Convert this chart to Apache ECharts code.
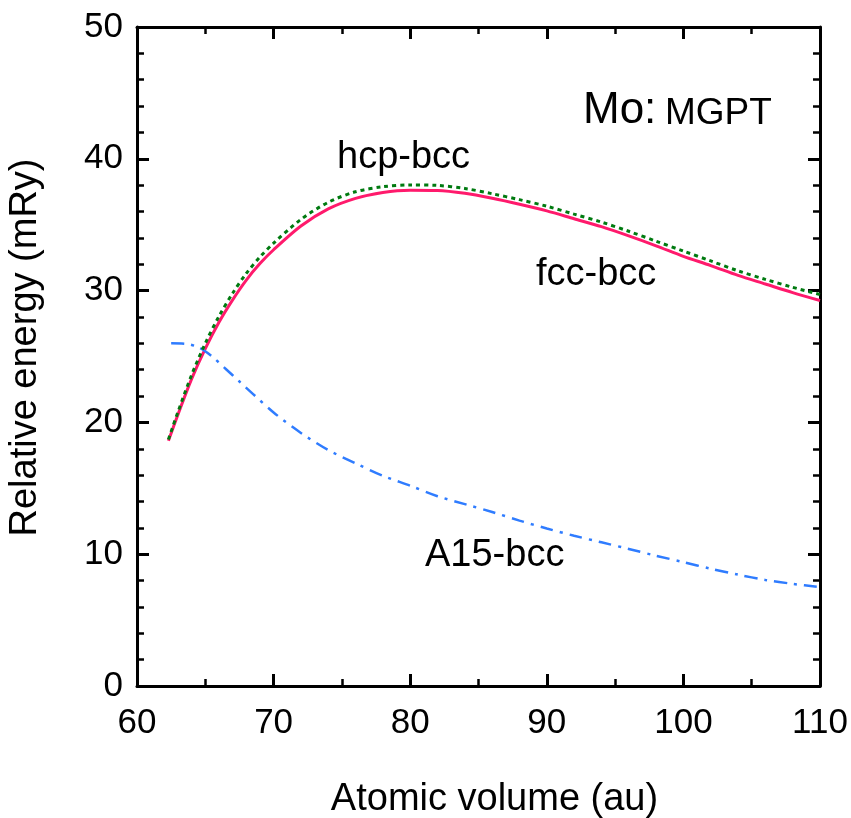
<!DOCTYPE html>
<html>
<head>
<meta charset="utf-8">
<script src="https://cdn.jsdelivr.net/npm/echarts@6/dist/echarts.min.js"></script>
<style>
html,body{margin:0;padding:0;background:#fff;}
#c{width:851px;height:818px;}
</style>
</head>
<body>
<div id="c"></div>
<script>
// Data
const fccVol = [62.3, 63, 64, 65, 66, 67, 68, 69, 70, 72, 74, 76, 78, 80, 82, 84, 86, 88, 90, 92, 94, 96, 98, 100, 102, 104, 106, 108, 110];
const fccE   = [18.6, 20.6, 23.3, 25.6, 27.6, 29.3, 30.8, 32.05, 33.1, 34.9, 36.2, 37.0, 37.45, 37.62, 37.6, 37.38, 37.0, 36.55, 36.05, 35.45, 34.85, 34.15, 33.4, 32.6, 31.9, 31.15, 30.5, 29.85, 29.25];

const hcpVol = [62.3, 63, 64, 65, 66, 67, 68, 69, 70, 72, 74, 76, 78, 80, 82, 84, 86, 88, 90, 92, 94, 96, 98, 100, 102, 104, 106, 108, 110];
const hcpE   = [18.7, 20.8, 23.6, 26.0, 28.05, 29.8, 31.3, 32.55, 33.6, 35.4, 36.7, 37.5, 37.88, 38.02, 37.98, 37.75, 37.35, 36.9, 36.4, 35.8, 35.2, 34.5, 33.75, 33.0, 32.25, 31.5, 30.85, 30.25, 29.7];

const a15Vol = [62.5, 63.5, 64.5, 65.5, 66.5, 67.5, 68.5, 70, 72, 74, 76, 78, 80, 82, 84, 86, 88, 90, 92, 94, 96, 98, 100, 102, 104, 106, 108, 110];
const a15E   = [26.0, 25.97, 25.7, 25.0, 24.05, 23.1, 22.15, 20.75, 19.2, 17.9, 16.9, 15.95, 15.2, 14.4, 13.8, 13.2, 12.55, 11.95, 11.4, 10.9, 10.4, 9.88, 9.4, 8.9, 8.45, 8.05, 7.75, 7.5];

const xTicks = [60, 70, 80, 90, 100, 110];
const yTicks = [0, 10, 20, 30, 40, 50];

const seriesNames = ['fcc-bcc', 'hcp-bcc', 'A15-bcc'];
const xTitle = 'Atomic volume (au)';
const yTitle = 'Relative energy (mRy)';
const annoMain = 'Mo:';
const annoSub = 'MGPT';

const pair = (xs, ys) => xs.map((v, i) => [v, ys[i]]);
const FONT = '"Liberation Sans", Arial, Helvetica, sans-serif';

const chart = echarts.init(document.getElementById('c'), null, {renderer: 'canvas'});

const axisCommon = {
  axisLine: {show: true, onZero: false, lineStyle: {color: '#000', width: 3}},
  axisTick: {show: true, inside: true, length: 12, lineStyle: {color: '#000', width: 3}},
  minorTick: {show: true, length: 7, lineStyle: {color: '#000', width: 2.5}},
  splitLine: {show: false},
  minorSplitLine: {show: false}
};

const xMin = xTicks[0], xMax = xTicks[xTicks.length - 1];
const yMin = yTicks[0], yMax = yTicks[yTicks.length - 1];

chart.setOption({
  animation: false,
  backgroundColor: '#fff',
  grid: {left: 137, right: 31, top: 27, bottom: 132, containLabel: false, outerBoundsMode: 'none'},
  xAxis: [
    Object.assign({}, axisCommon, {
      type: 'value', position: 'bottom', min: xMin, max: xMax, interval: 10,
      minorTick: Object.assign({}, axisCommon.minorTick, {splitNumber: 2}),
      axisLabel: {show: true, margin: 20, color: '#000', fontSize: 35, fontFamily: FONT},
      name: xTitle, nameLocation: 'middle', nameGap: 95,
      nameTextStyle: {color: '#000', fontSize: 38, fontFamily: FONT, padding: [0, 0, 0, 32]}
    }),
    Object.assign({}, axisCommon, {
      type: 'value', position: 'top', min: xMin, max: xMax, interval: 10,
      minorTick: Object.assign({}, axisCommon.minorTick, {splitNumber: 2}),
      axisLabel: {show: false}
    })
  ],
  yAxis: [
    Object.assign({}, axisCommon, {
      type: 'value', position: 'left', min: yMin, max: yMax, interval: 10,
      minorTick: Object.assign({}, axisCommon.minorTick, {splitNumber: 5}),
      axisLabel: {show: true, margin: 14, color: '#000', fontSize: 35, fontFamily: FONT},
      name: yTitle, nameLocation: 'middle', nameGap: 92,
      nameTextStyle: {color: '#000', fontSize: 38, fontFamily: FONT, padding: [0, 0, 0, 18]}
    }),
    Object.assign({}, axisCommon, {
      type: 'value', position: 'right', min: yMin, max: yMax, interval: 10,
      minorTick: Object.assign({}, axisCommon.minorTick, {splitNumber: 5}),
      axisLabel: {show: false}
    })
  ],
  series: [
    {
      name: seriesNames[0], type: 'line', xAxisIndex: 0, yAxisIndex: 0,
      data: pair(fccVol, fccE), smooth: 0.3, showSymbol: false, symbol: 'none',
      lineStyle: {color: '#ff1a6c', width: 3, type: 'solid'}, z: 3
    },
    {
      name: seriesNames[1], type: 'line', xAxisIndex: 0, yAxisIndex: 0,
      data: pair(hcpVol, hcpE), smooth: 0.3, showSymbol: false, symbol: 'none',
      lineStyle: {color: '#007a10', width: 3, type: [4, 4]}, z: 4
    },
    {
      name: seriesNames[2], type: 'line', xAxisIndex: 0, yAxisIndex: 0,
      data: pair(a15Vol, a15E), smooth: 0.3, showSymbol: false, symbol: 'none',
      lineStyle: {color: '#2f7cff', width: 2.5, type: [13, 7, 3, 7]}, z: 3
    }
  ],
  graphic: [
    {type: 'text', left: 583, top: 89, style: {text: annoMain, fontSize: 44, fontFamily: FONT, fill: '#000'}},
    {type: 'text', left: 665, top: 95, style: {text: annoSub, fontSize: 37, fontFamily: FONT, fill: '#000'}},
    {type: 'text', left: 337, top: 139, style: {text: seriesNames[1], fontSize: 38, fontFamily: FONT, fill: '#000'}},
    {type: 'text', left: 536, top: 256, style: {text: seriesNames[0], fontSize: 38, fontFamily: FONT, fill: '#000'}},
    {type: 'text', left: 425, top: 537, style: {text: seriesNames[2], fontSize: 38, fontFamily: FONT, fill: '#000'}}
  ]
});
</script>
</body>
</html>
